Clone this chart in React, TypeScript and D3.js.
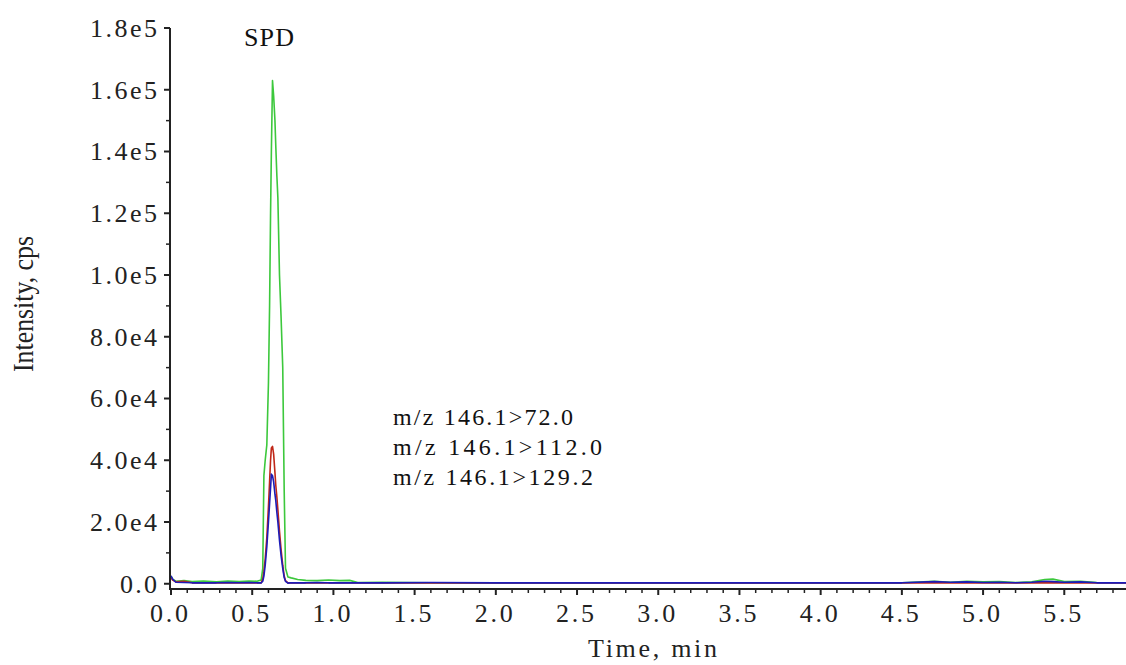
import * as d3 from "d3";

// chromatogram sample times (min)
const times = [
  0, 0.01, 0.03, 0.08, 0.13, 0.2, 0.28, 0.35, 0.42, 0.48, 0.53,
  0.555, 0.565, 0.572, 0.58, 0.59, 0.6, 0.607, 0.613, 0.618, 0.625, 0.632,
  0.64, 0.645, 0.652, 0.658, 0.668, 0.678, 0.688, 0.697, 0.705, 0.72,
  0.74, 0.78, 0.83, 0.9, 0.97, 1.04, 1.1, 1.15, 1.3, 1.6, 2.0, 2.5, 3.0,
  3.5, 4.0, 4.5, 4.7, 4.8, 4.9, 5.0, 5.1, 5.2, 5.3, 5.38, 5.43, 5.5, 5.6,
  5.7, 5.88,
];

// m/z 146.1>72.0
const greenValues = [
  2500, 1500, 800, 1000, 700, 900, 600, 900, 700, 900, 800,
  1200, 5000, 35000, 40000, 45000, 65000, 90000, 120000, 140000, 163000, 158000,
  150000, 142000, 132000, 125000, 100000, 86000, 70000, 30000, 5000, 2200,
  1900, 1400, 1100, 1000, 1200, 1000, 1100, 400, 500, 300, 300, 300, 300,
  300, 300, 300, 800, 500, 800, 600, 700, 400, 600, 1400, 1500, 700, 800,
  400, 300,
];

// m/z 146.1>112.0
const redValues = [
  2000, 1200, 600, 800, 300, 300, 300, 300, 300, 300, 300,
  300, 1500, 4000, 8000, 15000, 25000, 33000, 40000, 44000, 44500, 42000,
  36000, 32000, 28000, 24000, 17000, 11000, 6000, 2500, 1000, 300,
  300, 300, 300, 300, 300, 300, 300, 300, 300, 300, 300, 300, 300,
  300, 300, 300, 300, 300, 300, 300, 300, 300, 300, 300, 300, 300, 300,
  300, 300,
];

// m/z 146.1>129.2
const blueValues = [
  2600, 1500, 500, 400, 300, 300, 300, 400, 300, 400, 300,
  300, 800, 2500, 6000, 12000, 20000, 26000, 31000, 35500, 35000, 33000,
  29000, 27000, 23000, 20000, 14000, 9000, 5000, 2000, 800, 200,
  300, 300, 300, 400, 300, 300, 300, 300, 300, 400, 300, 300, 300,
  300, 300, 300, 700, 500, 600, 400, 500, 300, 500, 800, 700, 500, 600,
  300, 300,
];

const yTickLabels = ["0.0", "2.0e4", "4.0e4", "6.0e4", "8.0e4", "1.0e5", "1.2e5", "1.4e5", "1.6e5", "1.8e5"];
const xTickLabels = ["0.0", "0.5", "1.0", "1.5", "2.0", "2.5", "3.0", "3.5", "4.0", "4.5", "5.0", "5.5"];
const legendLines = ["m/z 146.1>72.0", "m/z 146.1>112.0", "m/z 146.1>129.2"];

const W = 1126, H = 665;
const FONT = "Liberation Serif, serif";

const x = d3.scaleLinear().domain([0, 5.88]).range([171, 1126]);
const y = d3.scaleLinear().domain([-1700, 180000]).range([589, 28]);

const line = d3.line<number>()
  .x((_, i) => x(times[i]))
  .y(d => y(d));

const series = [
  { values: greenValues, color: "#3cc83c" },
  { values: redValues, color: "#c02818" },
  { values: blueValues, color: "#1c1cb8" },
];

export default function App() {
  const yMajor = d3.range(0, 180001, 20000);
  const yMinor = d3.range(10000, 160001, 20000);
  const xMajor = d3.range(0, 12).map(i => i * 0.5);
  const xMinor = d3.range(0, 59).map(i => i / 10).filter(t => Math.round(t * 10) % 5 !== 0);

  return (
    <svg width={W} height={H} style={{ position: "absolute", left: 0, top: 0, background: "#fff" }}>
      <rect width={W} height={H} fill="#fff" />

      {series.map((s, i) => (
        <path key={i} d={line(s.values) || ""} fill="none" stroke={s.color} strokeWidth={1.6} strokeLinejoin="round" />
      ))}

      {/* axes */}
      <line x1={170} x2={170} y1={28} y2={590} stroke="#222" strokeWidth={2} />
      <line x1={170} x2={W} y1={589} y2={589} stroke="#222" strokeWidth={2} />

      {yMajor.map((v, i) => (
        <g key={"ym" + i}>
          <line x1={164} x2={170} y1={y(v)} y2={y(v)} stroke="#222" strokeWidth={2} />
          <text
            x={157 - (yTickLabels[i].length > 3 ? 67 : 37)}
            y={y(v)}
            dy="0.34em"
            fontFamily={FONT}
            fontSize={26}
            fill="#222"
            textLength={yTickLabels[i].length > 3 ? 67 : 37}
            lengthAdjust="spacing"
          >
            {yTickLabels[i]}
          </text>
        </g>
      ))}
      {yMinor.map((v, i) => (
        <line key={"yn" + i} x1={166} x2={170} y1={y(v)} y2={y(v)} stroke="#222" strokeWidth={1.5} />
      ))}

      {xMajor.map((t, i) => (
        <g key={"xm" + i}>
          <line x1={x(t)} x2={x(t)} y1={589} y2={595} stroke="#222" strokeWidth={2} />
          <text
            x={x(t) - 21}
            y={622}
            fontFamily={FONT}
            fontSize={26}
            fill="#222"
            textLength={38}
            lengthAdjust="spacing"
          >
            {xTickLabels[i]}
          </text>
        </g>
      ))}
      {xMinor.map((t, i) => (
        <line key={"xn" + i} x1={x(t)} x2={x(t)} y1={589} y2={593} stroke="#222" strokeWidth={1.5} />
      ))}

      <text x={588} y={657} fontFamily={FONT} fontSize={26} fill="#222" textLength={129} lengthAdjust="spacing">
        Time, min
      </text>
      <text
        transform="translate(33,372) scale(1.2,1) rotate(-90)"
        fontFamily={FONT}
        fontSize={25}
        fill="#222"
        textLength={136}
        lengthAdjust="spacingAndGlyphs"
      >
        Intensity, cps
      </text>

      <text x={244} y={46} fontFamily={FONT} fontSize={26} fill="#111" textLength={50} lengthAdjust="spacing">
        SPD
      </text>

      {legendLines.map((t, i) => (
        <text
          key={"lg" + i}
          x={393}
          y={425 + i * 30}
          fontFamily={FONT}
          fontSize={24}
          fill="#111"
          textLength={[180, 209, 200][i]}
          lengthAdjust="spacing"
        >
          {t}
        </text>
      ))}
    </svg>
  );
}
